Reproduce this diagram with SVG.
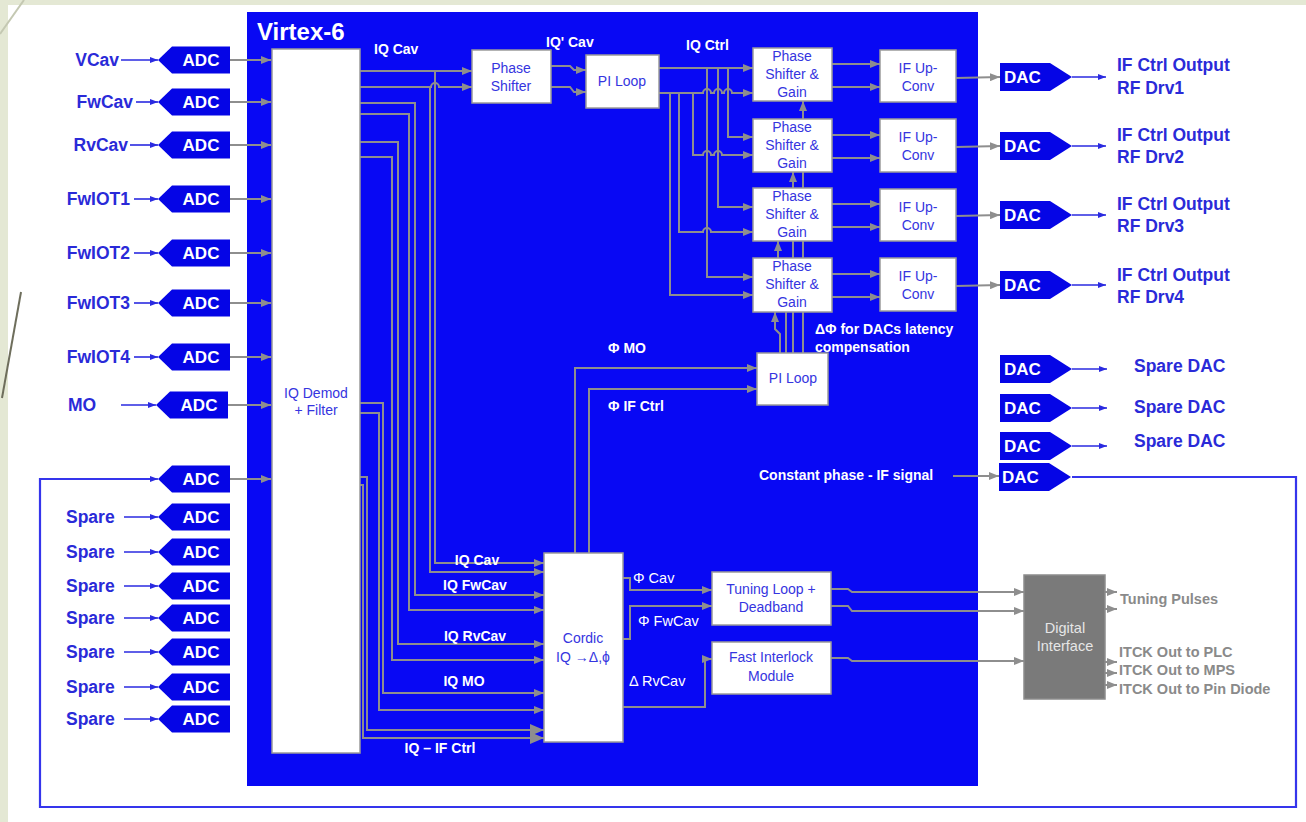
<svg xmlns="http://www.w3.org/2000/svg" width="1306" height="822" viewBox="0 0 1306 822">
<style>
text{font-family:"Liberation Sans",Arial,"DejaVu Sans",sans-serif}
.lbl{font-weight:bold;font-size:17.5px;fill:#2a2ad8}
.wl{font-weight:bold;font-size:14px;fill:#ffffff}
.wr{font-size:14.5px;fill:#ffffff}
.bt{font-size:14px;fill:#3535e0;text-anchor:middle}
.cv{font-weight:bold;font-size:17px;fill:#ffffff}
.gt{font-weight:bold;font-size:14.5px;fill:#8a8a8a}
.box{fill:#ffffff;stroke:#9a9a9a;stroke-width:1.5}
.w{fill:none;stroke:#8e8e8e;stroke-width:2;marker-end:url(#ga)}
.wb{fill:none;stroke:#8e8e8e;stroke-width:2;marker-end:url(#gb)}
.bw{fill:none;stroke:#2a2ae0;stroke-width:1.6;marker-end:url(#ba)}
.loop{fill:none;stroke:#3535ec;stroke-width:2.2}
.conv{fill:#0505e6}
</style>
<defs>
<marker id="ga" viewBox="0 0 10 8" refX="10" refY="4" markerWidth="10" markerHeight="8" markerUnits="userSpaceOnUse" orient="auto"><path d="M0,0L10,4L0,8z" fill="#8e8e8e"/></marker>
<marker id="gb" viewBox="0 0 14 12" refX="14" refY="6" markerWidth="14" markerHeight="12" markerUnits="userSpaceOnUse" orient="auto"><path d="M0,0L14,6L0,12z" fill="#8e8e8e"/></marker>
<marker id="ba" viewBox="0 0 8 6" refX="8" refY="3" markerWidth="8" markerHeight="6" markerUnits="userSpaceOnUse" orient="auto"><path d="M0,0L8,3L0,6z" fill="#2a2ae0"/></marker>
<path id="adc" class="conv" d="M0,0 L14,-13.5 L72,-13.5 L72,13.5 L14,13.5 Z"/>
<path id="dac" class="conv" d="M0,-14 L50,-14 L72,0 L50,14 L0,14 Z"/>
</defs>

<rect width="1306" height="822" fill="#e4e8d4"/>
<rect x="8" y="5" width="1298" height="817" fill="#ffffff"/>
<path d="M24,0 L0,34" stroke="#c4c8b2" stroke-width="2" fill="none"/>
<path d="M21,292 L2,398" stroke="#6e6e5c" stroke-width="2" fill="none"/>

<g id="fpga">
<rect x="247" y="12" width="731" height="774" fill="#0808f4"/>
<text x="257" y="40" font-weight="bold" font-size="24" fill="#ffffff">Virtex-6</text>
</g>

<g id="connectors">
<!-- external loop -->
<path class="loop" d="M1072,477 L1296,477 L1296,807 L40,807 L40,479 L150,479"/>
<path class="bw" d="M150,479 L158,479"/>
<!-- input arrows -->
<path class="bw" d="M121,60 L158,60"/>
<path class="bw" d="M136,102 L158,102"/>
<path class="bw" d="M130,145 L158,145"/>
<path class="bw" d="M134,199 L158,199"/>
<path class="bw" d="M134,253 L158,253"/>
<path class="bw" d="M134,303 L158,303"/>
<path class="bw" d="M134,357 L158,357"/>
<path class="bw" d="M121,405 L156,405"/>
<path class="bw" d="M124,517 L158,517"/>
<path class="bw" d="M124,552 L158,552"/>
<path class="bw" d="M124,586 L158,586"/>
<path class="bw" d="M124,618 L158,618"/>
<path class="bw" d="M124,652 L158,652"/>
<path class="bw" d="M124,687 L158,687"/>
<path class="bw" d="M124,719 L158,719"/>
<!-- ADC to demod -->
<path class="w" d="M230,60 L271,60"/>
<path class="w" d="M230,102 L271,102"/>
<path class="w" d="M230,145 L271,145"/>
<path class="w" d="M230,199 L271,199"/>
<path class="w" d="M230,253 L271,253"/>
<path class="w" d="M230,303 L271,303"/>
<path class="w" d="M230,357 L271,357"/>
<path class="w" d="M228,405 L271,405"/>
<path class="w" d="M230,479 L271,479"/>
<!-- demod outputs -->
<path class="w" d="M360,71 L472,71"/>
<path class="w" d="M360,87 L431,87 A4,4 0 0 1 439,87 L472,87"/>
<path class="w" d="M435,71 L435,563 L544,563"/>
<path class="w" d="M430,87 L430,572 L544,572"/>
<path class="w" d="M360,103 L415,103 L415,595 L544,595"/>
<path class="w" d="M360,114 L409,114 L409,610 L544,610"/>
<path class="w" d="M360,142 L398,142 L398,644 L544,644"/>
<path class="w" d="M360,157 L392,157 L392,660 L544,660"/>
<path class="w" d="M360,403 L383,403 L383,693 L544,693"/>
<path class="w" d="M360,413 L379,413 L379,710 L544,710"/>
<path class="wb" d="M360,477 L367,477 L367,730 L544,730"/>
<path class="wb" d="M360,485 L363,485 L363,738 L544,738"/>
<!-- phase shifter to PI loop -->
<path class="w" d="M551,66 L570,66 L574,70 L586,70"/>
<path class="w" d="M551,87 L570,87 L574,92 L586,92"/>
<!-- PI loop to PS&G -->
<path class="w" d="M659,68 L753,68"/>
<path class="w" d="M659,93 L703,93 A4,4 0 0 1 711,93 L714,93 A4,4 0 0 1 722,93 L724,93 A4,4 0 0 1 732,93 L753,93"/>
<path class="w" d="M728,68 L728,137 L753,137"/>
<path class="w" d="M718,68 L718,207 L753,207"/>
<path class="w" d="M707,68 L707,277 L753,277"/>
<path class="w" d="M693,93 L693,155 L703,155 A4,4 0 0 1 711,155 L714,155 A4,4 0 0 1 722,155 L753,155"/>
<path class="w" d="M679,93 L679,232 L703,232 A4,4 0 0 1 711,232 L753,232"/>
<path class="w" d="M670,93 L670,295 L753,295"/>
<!-- PS&G to IF up-conv -->
<path class="w" d="M832,64 L880,64"/>
<path class="w" d="M832,87 L880,87"/>
<path class="w" d="M832,135 L880,135"/>
<path class="w" d="M832,158 L880,158"/>
<path class="w" d="M832,204 L880,204"/>
<path class="w" d="M832,227 L880,227"/>
<path class="w" d="M832,274 L880,274"/>
<path class="w" d="M832,297 L880,297"/>
<!-- IF up-conv to DAC -->
<path class="w" d="M956,78 L1000,77"/>
<path class="w" d="M956,147 L1000,146"/>
<path class="w" d="M956,216 L1000,215"/>
<path class="w" d="M956,286 L1000,285"/>
<!-- DAC outputs -->
<path class="bw" d="M1072,77 L1106,77"/>
<path class="bw" d="M1072,146 L1106,146"/>
<path class="bw" d="M1072,215 L1106,215"/>
<path class="bw" d="M1072,285 L1106,285"/>
<path class="bw" d="M1072,369 L1107,369"/>
<path class="bw" d="M1072,408 L1107,408"/>
<path class="bw" d="M1072,446 L1107,446"/>
<!-- constant phase -->
<path class="w" d="M953,476 L999,476"/>
<!-- cordic to lower PI loop -->
<path class="w" d="M575,553 L575,368 L757,368"/>
<path class="w" d="M589,553 L589,389 L757,389"/>
<!-- lower PI loop to PS&G -->
<path class="w" d="M780,353 L780,334 L775,329 L775,312"/>
<path class="w" d="M786,353 L786,300 L778,275 L778,241"/>
<path class="w" d="M793,353 L793,172"/>
<path class="w" d="M803,353 L803,101"/>
<!-- cordic to tuning / interlock -->
<path class="w" d="M623,578 L630,578 L630,590 L712,590"/>
<path class="w" d="M623,639 L630,639 L630,606 L712,606"/>
<path class="w" d="M623,707 L705,707 L705,659 L712,659"/>
<!-- to digital interface -->
<path class="w" d="M831,589 L848,589 L852,592 L1024,592"/>
<path class="w" d="M831,606 L848,606 L852,611 L1024,611"/>
<path class="w" d="M831,658 L848,658 L852,661 L1024,661"/>
<!-- digital interface outputs -->
<path class="w" d="M1105,592 L1117,592"/>
<path class="w" d="M1105,609 L1117,609"/>
<path class="w" d="M1105,662 L1117,662"/>
<path class="w" d="M1105,673 L1117,673"/>
<path class="w" d="M1105,685 L1117,685"/>
</g>

<!-- input labels -->
<g id="inputs">
<text class="lbl" x="119" y="66" text-anchor="end">VCav</text>
<text class="lbl" x="133" y="108" text-anchor="end">FwCav</text>
<text class="lbl" x="128" y="151" text-anchor="end">RvCav</text>
<text class="lbl" x="130" y="205" text-anchor="end">FwIOT1</text>
<text class="lbl" x="130" y="259" text-anchor="end">FwIOT2</text>
<text class="lbl" x="130" y="309" text-anchor="end">FwIOT3</text>
<text class="lbl" x="130" y="363" text-anchor="end">FwIOT4</text>
<text class="lbl" x="68" y="411">MO</text>
<text class="lbl" x="66" y="523">Spare</text>
<text class="lbl" x="66" y="558">Spare</text>
<text class="lbl" x="66" y="592">Spare</text>
<text class="lbl" x="66" y="624">Spare</text>
<text class="lbl" x="66" y="658">Spare</text>
<text class="lbl" x="66" y="693">Spare</text>
<text class="lbl" x="66" y="725">Spare</text>
</g>

<g id="adc1"><use href="#adc" x="158" y="60"/><text class="cv" x="201" y="66" text-anchor="middle">ADC</text></g>
<g id="adc2"><use href="#adc" x="158" y="102"/><text class="cv" x="201" y="108" text-anchor="middle">ADC</text></g>
<g id="adc3"><use href="#adc" x="158" y="145"/><text class="cv" x="201" y="151" text-anchor="middle">ADC</text></g>
<g id="adc4"><use href="#adc" x="158" y="199"/><text class="cv" x="201" y="205" text-anchor="middle">ADC</text></g>
<g id="adc5"><use href="#adc" x="158" y="253"/><text class="cv" x="201" y="259" text-anchor="middle">ADC</text></g>
<g id="adc6"><use href="#adc" x="158" y="303"/><text class="cv" x="201" y="309" text-anchor="middle">ADC</text></g>
<g id="adc7"><use href="#adc" x="158" y="357"/><text class="cv" x="201" y="363" text-anchor="middle">ADC</text></g>
<g id="adc8"><use href="#adc" x="156" y="405"/><text class="cv" x="199" y="411" text-anchor="middle">ADC</text></g>
<g id="adc9"><use href="#adc" x="158" y="479"/><text class="cv" x="201" y="485" text-anchor="middle">ADC</text></g>
<g id="adc10"><use href="#adc" x="158" y="517"/><text class="cv" x="201" y="523" text-anchor="middle">ADC</text></g>
<g id="adc11"><use href="#adc" x="158" y="552"/><text class="cv" x="201" y="558" text-anchor="middle">ADC</text></g>
<g id="adc12"><use href="#adc" x="158" y="586"/><text class="cv" x="201" y="592" text-anchor="middle">ADC</text></g>
<g id="adc13"><use href="#adc" x="158" y="618"/><text class="cv" x="201" y="624" text-anchor="middle">ADC</text></g>
<g id="adc14"><use href="#adc" x="158" y="652"/><text class="cv" x="201" y="658" text-anchor="middle">ADC</text></g>
<g id="adc15"><use href="#adc" x="158" y="687"/><text class="cv" x="201" y="693" text-anchor="middle">ADC</text></g>
<g id="adc16"><use href="#adc" x="158" y="719"/><text class="cv" x="201" y="725" text-anchor="middle">ADC</text></g>

<g id="demod"><rect class="box" x="272" y="49" width="88" height="704"/>
<text class="bt" x="316" y="398">IQ Demod</text><text class="bt" x="316" y="415">+ Filter</text></g>

<g id="phaseshifter"><rect class="box" x="472" y="50" width="79" height="53"/>
<text class="bt" x="511" y="73">Phase</text><text class="bt" x="511" y="91">Shifter</text></g>

<g id="piloop1"><rect class="box" x="586" y="55" width="73" height="53"/>
<text class="bt" x="622" y="86">PI Loop</text></g>

<g id="psg1"><rect class="box" x="753" y="48" width="79" height="53"/>
<text class="bt" x="792" y="61">Phase</text><text class="bt" x="792" y="79">Shifter &amp;</text><text class="bt" x="792" y="97">Gain</text></g>
<g id="psg2"><rect class="box" x="753" y="119" width="79" height="53"/>
<text class="bt" x="792" y="132">Phase</text><text class="bt" x="792" y="150">Shifter &amp;</text><text class="bt" x="792" y="168">Gain</text></g>
<g id="psg3"><rect class="box" x="753" y="188" width="79" height="53"/>
<text class="bt" x="792" y="201">Phase</text><text class="bt" x="792" y="219">Shifter &amp;</text><text class="bt" x="792" y="237">Gain</text></g>
<g id="psg4"><rect class="box" x="753" y="258" width="79" height="54"/>
<text class="bt" x="792" y="271">Phase</text><text class="bt" x="792" y="289">Shifter &amp;</text><text class="bt" x="792" y="307">Gain</text></g>

<g id="ifup1"><rect class="box" x="880" y="50" width="76" height="52"/>
<text class="bt" x="918" y="73">IF Up-</text><text class="bt" x="918" y="91">Conv</text></g>
<g id="ifup2"><rect class="box" x="880" y="119" width="76" height="53"/>
<text class="bt" x="918" y="142">IF Up-</text><text class="bt" x="918" y="160">Conv</text></g>
<g id="ifup3"><rect class="box" x="880" y="189" width="76" height="52"/>
<text class="bt" x="918" y="212">IF Up-</text><text class="bt" x="918" y="230">Conv</text></g>
<g id="ifup4"><rect class="box" x="880" y="258" width="76" height="53"/>
<text class="bt" x="918" y="281">IF Up-</text><text class="bt" x="918" y="299">Conv</text></g>

<g id="dac1"><use href="#dac" x="1000" y="77"/><text class="cv" x="1004" y="83">DAC</text></g>
<g id="dac2"><use href="#dac" x="1000" y="146"/><text class="cv" x="1004" y="152">DAC</text></g>
<g id="dac3"><use href="#dac" x="1000" y="215"/><text class="cv" x="1004" y="221">DAC</text></g>
<g id="dac4"><use href="#dac" x="1000" y="285"/><text class="cv" x="1004" y="291">DAC</text></g>
<g id="dac5"><use href="#dac" x="1000" y="369"/><text class="cv" x="1004" y="375">DAC</text></g>
<g id="dac6"><use href="#dac" x="1000" y="408"/><text class="cv" x="1004" y="414">DAC</text></g>
<g id="dac7"><use href="#dac" x="1000" y="446"/><text class="cv" x="1004" y="452">DAC</text></g>
<g id="dac8"><use href="#dac" x="999" y="477"/><text class="cv" x="1002" y="483">DAC</text></g>

<g id="outputs">
<text class="lbl" x="1117" y="71">IF Ctrl Output</text><text class="lbl" x="1117" y="94">RF Drv1</text>
<text class="lbl" x="1117" y="141">IF Ctrl Output</text><text class="lbl" x="1117" y="163">RF Drv2</text>
<text class="lbl" x="1117" y="210">IF Ctrl Output</text><text class="lbl" x="1117" y="232">RF Drv3</text>
<text class="lbl" x="1117" y="281">IF Ctrl Output</text><text class="lbl" x="1117" y="303">RF Drv4</text>
<text class="lbl" x="1134" y="372">Spare DAC</text>
<text class="lbl" x="1134" y="413">Spare DAC</text>
<text class="lbl" x="1134" y="447">Spare DAC</text>
</g>

<g id="piloop2"><rect class="box" x="757" y="353" width="71" height="52"/>
<text class="bt" x="793" y="383">PI Loop</text></g>

<g id="cordic"><rect class="box" x="544" y="553" width="79" height="189"/>
<text class="bt" x="583" y="643">Cordic</text><text class="bt" x="583" y="662">IQ →Δ,ϕ</text></g>

<g id="tuning"><rect class="box" x="712" y="572" width="119" height="53"/>
<text class="bt" x="771" y="594">Tuning Loop +</text><text class="bt" x="771" y="612">Deadband</text></g>

<g id="interlock"><rect class="box" x="712" y="642" width="119" height="52"/>
<text class="bt" x="771" y="662">Fast Interlock</text><text class="bt" x="771" y="681">Module</text></g>

<g id="digital"><rect x="1024" y="575" width="81" height="124" fill="#7a7a7a" stroke="#8c8c8c" stroke-width="1.5"/>
<text x="1065" y="633" font-size="14.5" fill="#e6e6e6" text-anchor="middle">Digital</text>
<text x="1065" y="651" font-size="14.5" fill="#e6e6e6" text-anchor="middle">Interface</text></g>

<g id="labels">
<text class="wl" x="374" y="54">IQ Cav</text>
<text class="wl" x="546" y="47">IQ' Cav</text>
<text class="wl" x="686" y="50">IQ Ctrl</text>
<text class="wl" x="608" y="353">Φ MO</text>
<text class="wl" x="608" y="411">Φ IF Ctrl</text>
<text class="wl" x="815" y="334">ΔΦ for DACs latency</text>
<text class="wl" x="815" y="352">compensation</text>
<text class="wl" x="759" y="480">Constant phase - IF signal</text>
<text class="wl" x="477" y="565" text-anchor="middle">IQ Cav</text>
<text class="wl" x="475" y="590" text-anchor="middle">IQ FwCav</text>
<text class="wl" x="475" y="641" text-anchor="middle">IQ RvCav</text>
<text class="wl" x="464" y="686" text-anchor="middle">IQ MO</text>
<text class="wl" x="440" y="753" text-anchor="middle">IQ – IF Ctrl</text>
<text class="wr" x="633" y="583">Φ Cav</text>
<text class="wr" x="638" y="626">Φ FwCav</text>
<text class="wr" x="629" y="686">Δ RvCav</text>
<text class="gt" x="1120" y="604">Tuning Pulses</text>
<text class="gt" x="1119" y="657">ITCK Out to PLC</text>
<text class="gt" x="1119" y="675">ITCK Out to MPS</text>
<text class="gt" x="1119" y="694">ITCK Out to Pin Diode</text>
</g>
</svg>
